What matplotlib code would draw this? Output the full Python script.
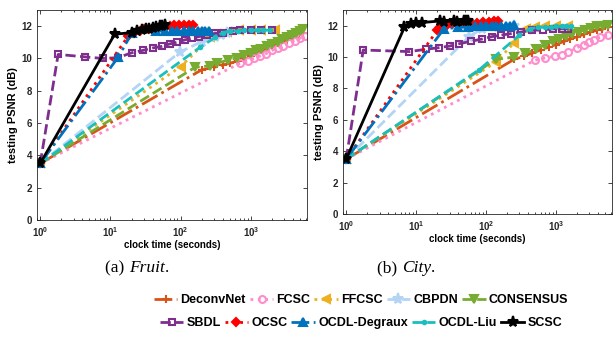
import matplotlib
matplotlib.use('Agg')
import matplotlib.pyplot as plt
from matplotlib.ticker import LogLocator, NullFormatter

plt.rcParams['font.family'] = ['Liberation Sans', 'DejaVu Sans']
plt.rcParams['font.weight'] = 'bold'
plt.rcParams['mathtext.fontset'] = 'custom'
plt.rcParams['mathtext.bf'] = 'Liberation Sans:bold'
plt.rcParams['mathtext.rm'] = 'Liberation Sans:bold'
plt.rcParams['mathtext.default'] = 'bf'

methods = ['DeconvNet', 'FCSC', 'FFCSC', 'CBPDN', 'CONSENSUS',
           'SBDL', 'OCSC', 'OCDL-Degraux', 'OCDL-Liu', 'SCSC']

# ---- (a) Fruit ----
fruit_x = {
    'DeconvNet': [1, 200, 300, 400, 500, 650, 800, 1000, 1250, 1500, 1800, 2200, 2700, 3300, 4000, 4800, 5600],
    'FCSC': [1, 700, 900, 1100, 1350, 1650, 2000, 2400, 2900, 3500, 4200, 5000, 5900],
    'FFCSC': [1, 100, 265, 450, 680, 1000, 1400, 2200],
    'CBPDN': [1, 98, 200, 310, 370, 450],
    'CONSENSUS': [1, 160, 260, 330, 470, 640, 800, 1000, 1200, 1400, 1700, 2000, 2400, 2800, 3300, 3800, 4400, 5000, 5600],
    'SBDL': [1, 1.8, 4.3, 7.8, 12.8, 20, 29, 40, 54, 70, 88, 115, 145, 180, 235, 310, 400, 550, 700, 1000, 1400, 2000],
    'OCSC': [1, 18, 22, 26, 30, 35, 40, 50, 60, 70, 80, 95, 110, 130, 150],
    'OCDL-Degraux': [1, 13, 20, 45, 60, 75, 90, 110, 130, 150, 175, 200, 225, 250],
    'OCDL-Liu': [1, 190, 310, 400, 500, 650, 800, 1000, 1250, 1500, 1900],
    'SCSC': [1, 11.5, 20, 24, 28, 32, 36, 40, 45, 50, 55, 60],
}
fruit_y = {
    'DeconvNet': [3.5, 9.3, 9.45, 9.6, 9.7, 9.85, 10.0, 10.15, 10.35, 10.5, 10.65, 10.8, 11.0, 11.15, 11.3, 11.45, 11.55],
    'FCSC': [3.5, 9.7, 9.85, 10.0, 10.15, 10.3, 10.5, 10.65, 10.8, 10.95, 11.1, 11.25, 11.4],
    'FFCSC': [3.5, 9.5, 11.3, 11.65, 11.75, 11.75, 11.75, 11.75],
    'CBPDN': [3.5, 10.4, 11.05, 11.3, 11.45, 11.6],
    'CONSENSUS': [3.5, 9.45, 9.55, 9.7, 9.9, 10.05, 10.2, 10.35, 10.5, 10.6, 10.75, 10.9, 11.05, 11.2, 11.35, 11.45, 11.55, 11.7, 11.8],
    'SBDL': [3.5, 10.25, 10.1, 10.0, 10.05, 10.35, 10.5, 10.65, 10.75, 10.9, 11.0, 11.15, 11.25, 11.35, 11.45, 11.55, 11.6, 11.7, 11.75, 11.75, 11.75, 11.75],
    'OCSC': [3.5, 11.4, 11.6, 11.7, 11.8, 11.85, 11.9, 11.95, 12.0, 12.0, 12.05, 12.05, 12.1, 12.1, 12.1],
    'OCDL-Degraux': [3.5, 10.1, 11.55, 11.7, 11.7, 11.7, 11.7, 11.7, 11.7, 11.7, 11.7, 11.7, 11.7, 11.7],
    'OCDL-Liu': [3.5, 10.7, 11.3, 11.6, 11.7, 11.7, 11.75, 11.75, 11.75, 11.75, 11.75],
    'SCSC': [3.5, 11.5, 11.6, 11.7, 11.75, 11.8, 11.85, 11.9, 11.95, 12.0, 12.0, 12.05],
}

# ---- (b) City ----
city_x = {
    'DeconvNet': [1, 250, 350, 450, 600, 800, 1000, 1300, 1600, 2000, 2500, 3100, 3800, 4600, 5600],
    'FCSC': [1, 500, 700, 960, 1200, 1460, 2000, 2500, 3000, 3500, 4200, 5500],
    'FFCSC': [1, 140, 250, 370, 500, 700, 1000, 1500],
    'CBPDN': [1, 57, 87, 150, 250],
    'CONSENSUS': [1, 137, 250, 365, 520, 700, 900, 1100, 1400, 1700, 2100, 2600, 3200, 3900, 4700, 5600],
    'SBDL': [1, 1.75, 8, 14, 21, 30, 41, 60, 87, 120, 165, 230, 320, 450, 650, 900, 1200, 1500],
    'OCSC': [1, 20, 22, 27, 33, 40, 50, 60, 75, 90, 110, 130, 150],
    'OCDL-Degraux': [1, 25, 40, 55, 70, 85, 100, 120, 140, 165, 190, 220, 250],
    'OCDL-Liu': [1, 80, 300, 420, 550, 700, 850, 1000, 1200, 1400, 1650],
    'SCSC': [1, 6.8, 8.5, 10, 12, 22, 25, 35, 38, 48, 52, 55],
}
city_y = {
    'DeconvNet': [3.5, 9.85, 10.05, 10.25, 10.45, 10.65, 10.8, 11.0, 11.15, 11.3, 11.45, 11.6, 11.7, 11.8, 11.9],
    'FCSC': [3.5, 9.8, 9.95, 10.05, 10.15, 10.3, 10.6, 10.8, 10.95, 11.1, 11.25, 11.4],
    'FFCSC': [3.5, 9.7, 10.9, 11.8, 11.9, 11.95, 11.95, 11.95],
    'CBPDN': [3.5, 11.3, 11.8, 11.9, 11.95],
    'CONSENSUS': [3.5, 9.85, 10.0, 10.25, 10.5, 10.8, 11.0, 11.15, 11.35, 11.5, 11.6, 11.75, 11.85, 11.95, 12.0, 12.05],
    'SBDL': [3.5, 10.45, 10.35, 10.5, 10.6, 10.7, 10.85, 11.0, 11.15, 11.3, 11.4, 11.5, 11.6, 11.7, 11.75, 11.8, 11.8, 11.8],
    'OCSC': [3.5, 11.7, 11.9, 12.0, 12.1, 12.1, 12.15, 12.2, 12.2, 12.25, 12.25, 12.3, 12.3],
    'OCDL-Degraux': [3.5, 11.8, 11.9, 11.9, 11.95, 11.95, 12.0, 12.0, 12.0, 12.0, 12.0, 12.0, 12.05],
    'OCDL-Liu': [3.5, 9.2, 11.4, 11.8, 11.9, 11.9, 11.9, 11.95, 11.95, 11.95, 11.95],
    'SCSC': [3.5, 11.9, 12.1, 12.15, 12.2, 12.3, 12.25, 12.3, 12.25, 12.3, 12.3, 12.3],
}

colors = ['#D95319', '#FF8CCB', '#EDB120', '#B3D4F5', '#77AC30',
          '#7E2F8E', '#FF0000', '#0072BD', '#19BFBF', '#000000']
styles = ['-.', ':', ':', '--', '--', '--', ':', '-.', '--', '-']
markers = ['+', 'o', '<', '*', 'v', 's', 'D', '^', '.', '*']
msizes = [6, 5, 6, 8, 6, 4, 4, 6, 5, 8]
hollow = ['FCSC', 'SBDL']

fig = plt.figure(figsize=(6.13, 3.39), dpi=100)
ax1 = fig.add_axes([37/613, 1-220/339, 270/613, 210/339])
ax2 = fig.add_axes([343/613, 1-214/339, 269/613, 204/339])

handles = []
for ax, xs, ys in [(ax1, fruit_x, fruit_y), (ax2, city_x, city_y)]:
    for i, m in enumerate(methods):
        face = 'none' if m in hollow else colors[i]
        ln, = ax.plot(xs[m], ys[m], color=colors[i], ls=styles[i], lw=2,
                      marker=markers[i], ms=msizes[i], mfc=face, mec=colors[i],
                      mew=1.5, label=m)
        if ax is ax1:
            handles.append(ln)
    ax.set_xscale('log')
    ax.set_xlim(0.9, 6300)
    ax.set_ylim(0, 13)
    ax.set_yticks(range(0, 13, 2))
    ax.xaxis.set_major_locator(LogLocator(base=10, numticks=10))
    ax.xaxis.set_minor_locator(LogLocator(base=10, subs=range(2, 10), numticks=20))
    ax.xaxis.set_minor_formatter(NullFormatter())
    ax.tick_params(which='both', direction='in', top=True, right=True,
                   labelsize=7, colors='#262626', width=0.6)
    ax.tick_params(which='major', length=3)
    ax.tick_params(which='minor', length=1.5)
    for sp in ax.spines.values():
        sp.set_color('#262626')
        sp.set_linewidth(0.6)
    ax.set_xlabel('clock time (seconds)', fontsize=7, fontweight='bold', labelpad=1)
    ax.set_ylabel('testing PSNR (dB)', fontsize=8, fontweight='bold', labelpad=2)

# captions: upright prefix, italic name, upright period
fig.canvas.draw()
rend = fig.canvas.get_renderer()
for xc, tag, name in [(137, '(a) ', 'Fruit'), (406, '(b) ', 'City')]:
    parts = [(tag, 'normal'), (name, 'italic'), ('.', 'normal')]
    widths = []
    for txt, st in parts:
        t = fig.text(0, 0, txt, fontsize=12.5, family='Liberation Serif',
                     fontweight='normal', style=st)
        widths.append(t.get_window_extent(rend).width)
        t.remove()
    x0 = xc - sum(widths) / 2
    for (txt, st), w in zip(parts, widths):
        fig.text(x0/613, 1-268/339, txt, ha='left', va='center', fontsize=12.5,
                 family='Liberation Serif', fontweight='normal', style=st)
        x0 += w

for row, yc in [(handles[:5], 300), (handles[5:], 323)]:
    fig.legend(row, [h.get_label() for h in row], ncol=5, loc='center',
               bbox_to_anchor=(361/613, 1-yc/339), frameon=False,
               prop={'size': 9, 'weight': 'bold'}, handlelength=1.9,
               handletextpad=0.25, columnspacing=0.3, borderpad=0)

fig.savefig('out.png', dpi=100)
